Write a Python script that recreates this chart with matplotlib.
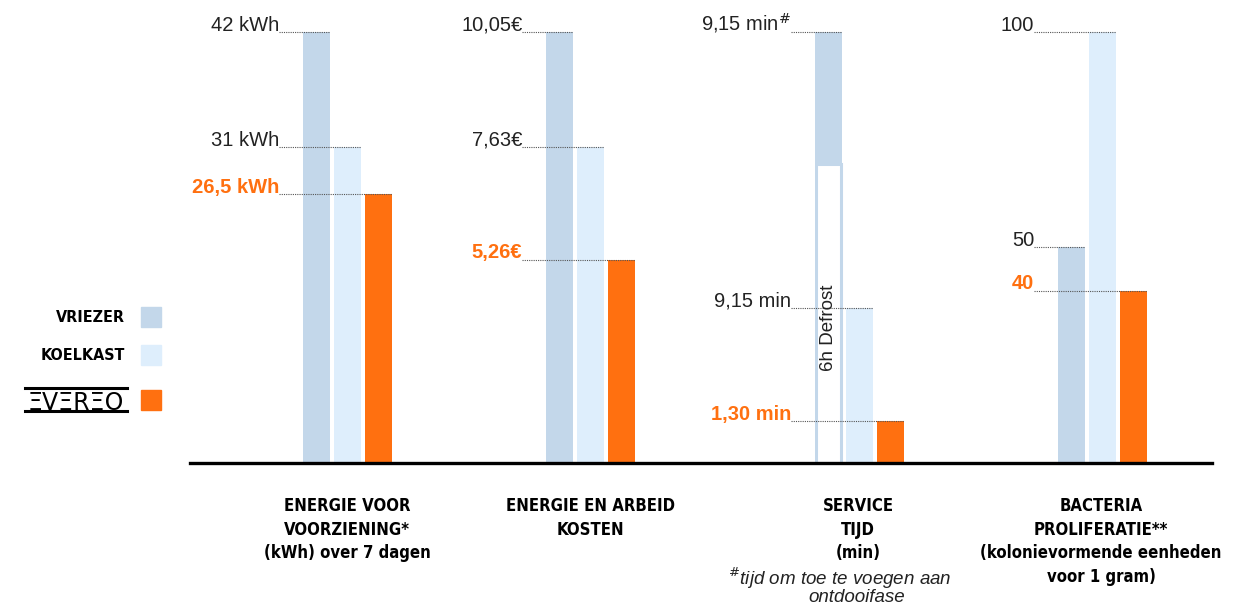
import matplotlib.pyplot as plt
import numpy as np
from matplotlib import font_manager as fm
from matplotlib.lines import Line2D
from matplotlib.patches import Rectangle

# ==================================================
# data

series = ["VRIEZER", "KOELKAST", "EVEREO"]

energy = [42, 31, 26.5]
energy_labels = ["42 kWh", "31 kWh", "26,5 kWh"]

cost = [10.05, 7.63, 5.26]
cost_labels = ["10,05€", "7,63€", "5,26€"]

service = [9.15, 9.15, 1.30]
service_labels = [r"9,15 min$^{\#}$", "9,15 min", "1,30 min"]
defrost_span = 20.8  # drawn length of the 6h defrost block (not to scale)

bacteria = [50, 100, 40]
bacteria_labels = ["50", "100", "40"]

categories = [
    "ENERGIE VOOR\nVOORZIENING*\n(kWh) over 7 dagen",
    "ENERGIE EN ARBEID\nKOSTEN",
    "SERVICE\nTIJD\n(min)",
    "BACTERIA\nPROLIFERATIE**\n(kolonievormende eenheden\nvoor 1 gram)",
]

# ==================================================
# style

W, H = 1243, 609
COLORS = ["#c3d7ea", "#deeefc", "#ff7010"]
TEXT = "#222222"
SANS = ["Liberation Sans", "DejaVu Sans"]

BASE_Y, TOP_Y = 463, 32
BAR_W = 0.87


def _num(v, table, default):
    return v if isinstance(v, (int, float)) else table.get(v, default)


def condensed_bold():
    # look for any bold condensed / narrow face installed
    for f in fm.fontManager.ttflist:
        w = _num(f.weight, fm.weight_dict, 400)
        s = _num(f.stretch, fm.stretch_dict, 500)
        n = f.name.lower()
        if f.style == "normal" and w >= 600 and (s <= 400 or "narrow" in n or "condensed" in n):
            return fm.FontProperties(fname=f.fname), 12
    return fm.FontProperties(family="DejaVu Sans", weight="bold"), 10.5


COND, COND_SIZE = condensed_bold()

fig = plt.figure(figsize=(W / 100, H / 100), dpi=100)


def px_axes(left, right):
    return fig.add_axes([left / W, 1 - BASE_Y / H, (right - left) / W, (BASE_Y - TOP_Y) / H])


def draw_group(left_px, values, labels, floor, top, stacked_defrost=None):
    ax = px_axes(left_px, left_px + 89)
    ax.set_xlim(-BAR_W / 2, 2 + BAR_W / 2)
    ax.set_ylim(floor, top)
    ax.axis("off")

    tops = []
    for i, v in enumerate(values):
        if i == 0 and stacked_defrost is not None:
            ax.bar(i, stacked_defrost, bottom=floor, width=BAR_W - 0.07,
                   facecolor="white", edgecolor=COLORS[0], linewidth=2.2)
            ax.bar(i, v, bottom=floor + stacked_defrost, width=BAR_W, color=COLORS[0])
            tops.append(floor + stacked_defrost + v)
            ax.text(i, floor + stacked_defrost * 0.45, "6h Defrost", rotation=90,
                    ha="center", va="center", fontsize=13.5, color=TEXT, family=SANS)
        else:
            ax.bar(i, v - floor, bottom=floor, width=BAR_W, color=COLORS[i])
            tops.append(v)

    for i, (t, lab) in enumerate(zip(tops, labels)):
        ax.plot([-1.2, i + BAR_W / 2], [t, t], ls=(0, (1, 1)), color="#555555",
                lw=0.8, clip_on=False)
        evereo = i == 2
        ax.annotate(lab, (-1.2, t), xytext=(0, 1), textcoords="offset points",
                    ha="right", va="baseline", fontsize=14.5,
                    color=COLORS[2] if evereo else TEXT,
                    fontweight="bold" if evereo else "normal", family=SANS,
                    annotation_clip=False)
    return ax


draw_group(303, energy, energy_labels, 0.75, energy[0])
draw_group(546, cost, cost_labels, 0.98, cost[0])
svc_floor = -1.62
draw_group(815, service, service_labels, svc_floor,
           svc_floor + defrost_span + service[0], stacked_defrost=defrost_span)
draw_group(1058, bacteria, bacteria_labels, 0, max(bacteria))

# baseline
fig.add_artist(Line2D([190 / W, 1212 / W], [1 - BASE_Y / H] * 2, color="black", lw=2.4))

# category labels
for cx, cat in zip([347, 590, 858, 1101], categories):
    fig.text(cx / W, 1 - 497 / H, cat, ha="center", va="top", fontproperties=COND,
             fontsize=COND_SIZE, color="black", linespacing=1.4)

# footnote under SERVICE TIJD
fig.text(840 / W, 1 - 578 / H, r"$^{\#}$tijd om toe te voegen aan",
         ha="center", va="center", fontsize=13.5, style="italic", family=SANS, color=TEXT)
fig.text(857 / W, 1 - 598 / H, "ontdooifase",
         ha="center", va="center", fontsize=13.5, style="italic", family=SANS, color=TEXT)

# legend
for y, name in [(317, "VRIEZER"), (355, "KOELKAST")]:
    fig.text(125 / W, 1 - y / H, name, ha="right", va="center",
             fontproperties=COND, fontsize=COND_SIZE - 0.5, color="black")
for y, c in zip([317, 355, 400], COLORS):
    fig.add_artist(Rectangle((141 / W, 1 - (y + 10) / H), 20 / W, 20 / H,
                             transform=fig.transFigure, color=c))

fig.text(76 / W, 1 - 400 / H, "ΞVΞRΞO", ha="center", va="center_baseline", fontsize=17,
         family="DejaVu Sans", color="black")
for y in [388, 411]:
    fig.add_artist(Line2D([25 / W, 127 / W], [1 - y / H] * 2, color="black", lw=2.2))

fig.savefig("out.png", dpi=100)
